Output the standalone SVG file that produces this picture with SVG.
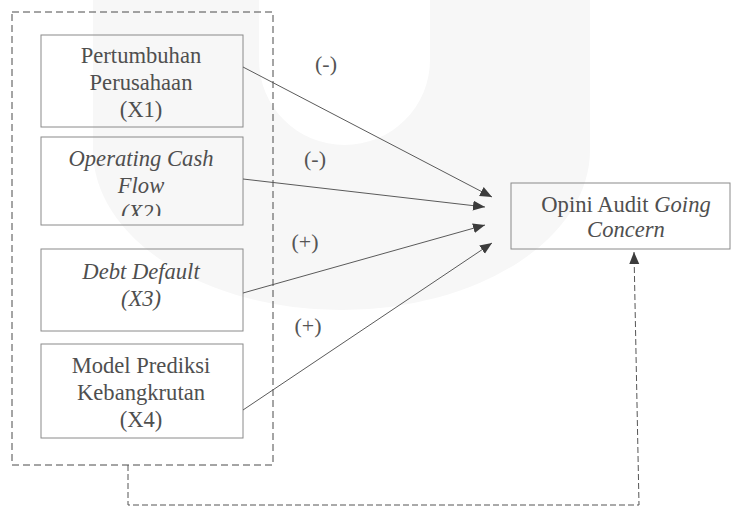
<svg xmlns="http://www.w3.org/2000/svg" width="732" height="506" viewBox="0 0 732 506">
<style>
.box{fill:none;stroke:#8a8a8a;stroke-width:1}
.t{font-family:'Liberation Serif','Times New Roman',serif;font-size:22.6px;fill:#4f4f4f;text-anchor:middle}
.i{font-style:italic}
.lbl{font-family:'Liberation Serif','Times New Roman',serif;font-size:22px;fill:#555;text-anchor:middle}
.arr{stroke:#5a5a5a;stroke-width:1;fill:none}
.dash{stroke:#4a4a4a;stroke-width:1;fill:none;stroke-dasharray:7 4}
</style>
<defs>
<marker id="ah" markerUnits="userSpaceOnUse" markerWidth="13" markerHeight="11" refX="12" refY="5" orient="auto">
<path d="M0,0 L12,5 L0,10 Z" fill="#3c3c3c"/>
</marker>
<clipPath id="c2"><rect x="41" y="137" width="202" height="79"/></clipPath>
</defs>
<rect width="732" height="506" fill="#fff"/>
<path id="watermark" d="M93,0 V150 A248.5,160 0 0 0 590,150 V0 Z M259,0 V60 A85.5,85 0 0 0 430,60 V0 Z" fill="#f7f7f7" fill-rule="evenodd"/>
<g id="group-x">
<rect x="12" y="12" width="261" height="453" class="dash"/>
</g>
<g id="x1">
<rect x="41" y="35" width="202" height="92" class="box"/>
<text class="t" x="141" y="63">Pertumbuhan</text>
<text class="t" x="141" y="90">Perusahaan</text>
<text class="t" x="141" y="117">(X1)</text>
</g>
<g id="x2">
<rect x="41" y="137" width="202" height="88" class="box"/>
<g clip-path="url(#c2)">
<text class="t i" x="141" y="166">Operating Cash</text>
<text class="t i" x="141" y="193">Flow</text>
<text class="t i" x="141" y="220">(X2)</text>
</g>
</g>
<g id="x3">
<rect x="41" y="249" width="202" height="82" class="box"/>
<text class="t i" x="141" y="279">Debt Default</text>
<text class="t i" x="141" y="306">(X3)</text>
</g>
<g id="x4">
<rect x="41" y="344" width="202" height="94" class="box"/>
<text class="t" x="141" y="373">Model Prediksi</text>
<text class="t" x="141" y="400">Kebangkrutan</text>
<text class="t" x="141" y="427">(X4)</text>
</g>
<g id="y">
<rect x="511" y="183" width="219" height="66" class="box"/>
<text class="t" x="626" y="212">Opini Audit <tspan class="i">Going</tspan></text>
<text class="t i" x="626" y="237">Concern</text>
</g>
<g id="connectors">
<line class="arr" x1="243" y1="67" x2="492" y2="197" marker-end="url(#ah)"/>
<line class="arr" x1="243" y1="179" x2="485" y2="207" marker-end="url(#ah)"/>
<line class="arr" x1="243" y1="293" x2="485" y2="225" marker-end="url(#ah)"/>
<line class="arr" x1="243" y1="410" x2="492" y2="243" marker-end="url(#ah)"/>
<path d="M128,465 L128,505 L639,505 L634,252" style="stroke:#555;stroke-width:1;fill:none;stroke-dasharray:6 3" marker-end="url(#ah)"/>
<text class="lbl" x="326" y="71">(-)</text>
<text class="lbl" x="315" y="166">(-)</text>
<text class="lbl" x="305" y="249">(+)</text>
<text class="lbl" x="308" y="333">(+)</text>
</g>
</svg>
